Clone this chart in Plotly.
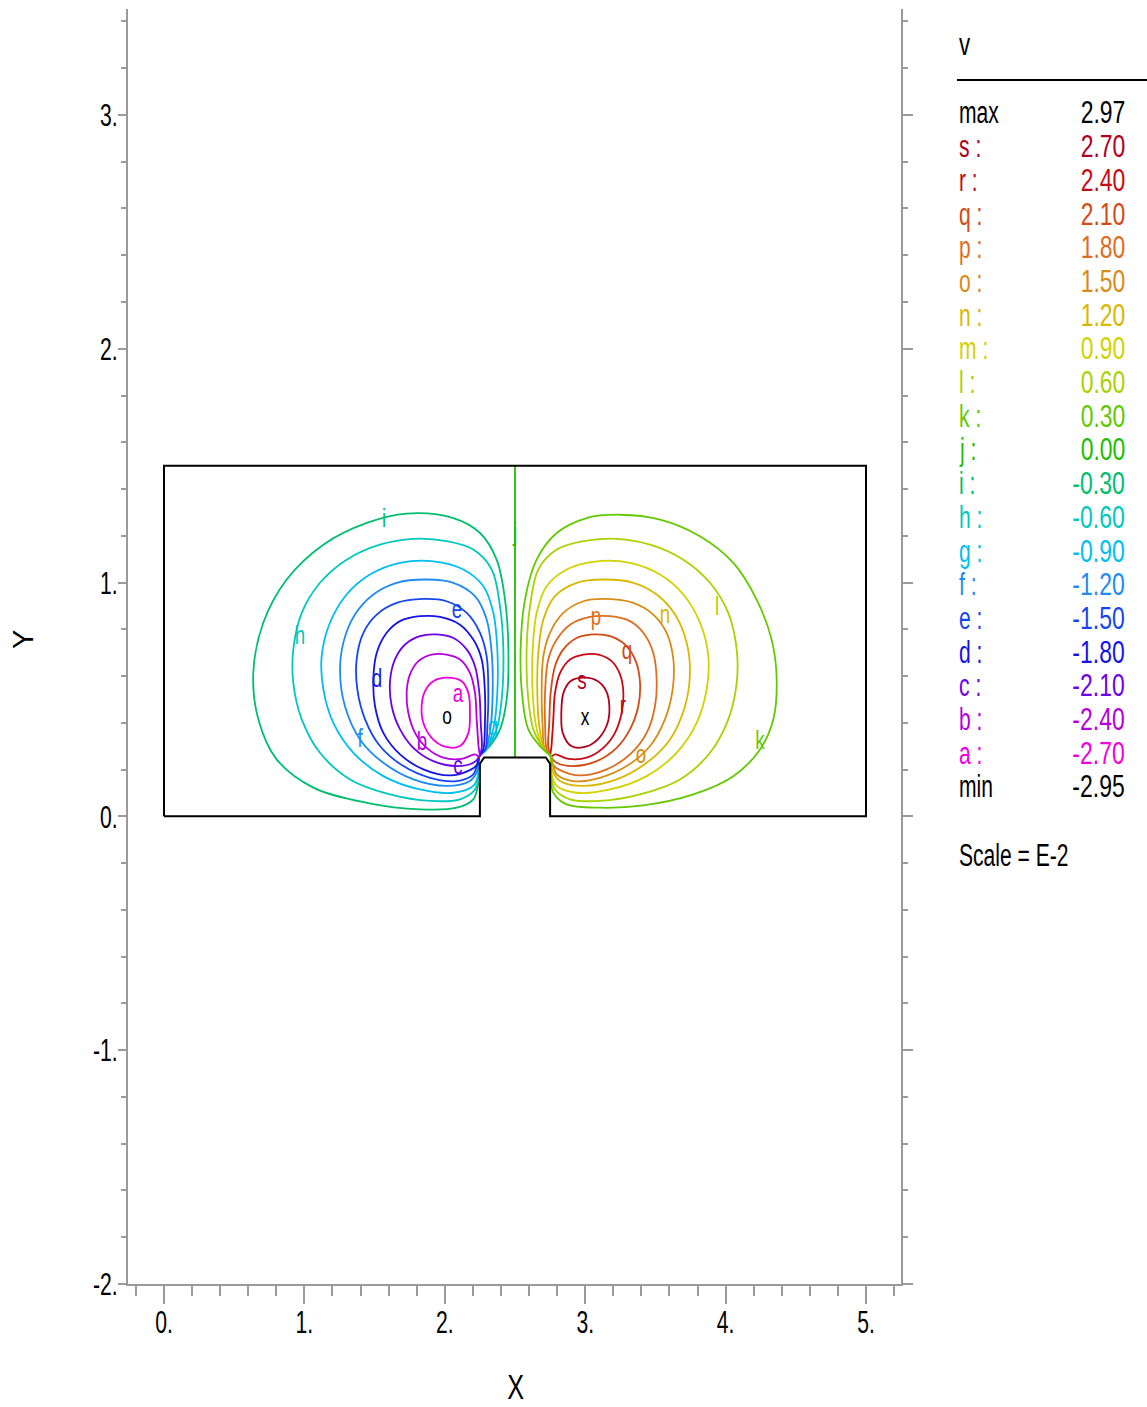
import plotly.graph_objects as go

# ---------------------------------------------------------------
# Contour levels of v (values in units of 1E-2)
# ---------------------------------------------------------------
level_names = ["s", "r", "q", "p", "o", "n", "m", "l", "k", "j",
               "i", "h", "g", "f", "e", "d", "c", "b", "a"]
level_values = [2.70, 2.40, 2.10, 1.80, 1.50, 1.20, 0.90, 0.60, 0.30, 0.00,
                -0.30, -0.60, -0.90, -1.20, -1.50, -1.80, -2.10, -2.40, -2.70]
level_colors = ["#b0001e", "#c80a14", "#d24a14", "#dc6e1e", "#d88c14", "#d8b800",
                "#d2d200", "#a8d200", "#64c800", "#1ebe00",
                "#00be6e", "#00c8be", "#00bef0", "#1e8cf0", "#1446f0", "#1414e6",
                "#6e00e6", "#b400dc", "#f000dc"]
v_max = 2.97
v_min = -2.95
scale_label = "Scale = E-2"

# ---------------------------------------------------------------
# Domain outline (channel with a raised block on the floor)
# ---------------------------------------------------------------
domain_x = [0.0, 2.25, 2.25, 2.28, 2.72, 2.75, 2.75, 5.0, 5.0, 0.0, 0.0]
domain_y = [0.0, 0.0, 0.225, 0.252, 0.252, 0.225, 0.0, 0.0, 1.5, 1.5, 0.0]

# ---------------------------------------------------------------
# Contour paths, left (negative) cell
# ---------------------------------------------------------------
contour_i_x = [2.245, 2.32, 2.393, 2.441, 2.453, 2.429, 2.369, 2.251, 2.061, 1.728, 1.444, 1.135,
               0.874, 0.707, 0.636, 0.672, 0.802, 1.064, 1.444, 1.823, 2.085, 2.203, 2.239, 2.245]
contour_i_y = [0.255, 0.300, 0.372, 0.500, 0.714, 0.927, 1.098, 1.212, 1.276, 1.295, 1.255, 1.162,
               1.013, 0.828, 0.614, 0.415, 0.244, 0.123, 0.058, 0.030, 0.037, 0.073, 0.144, 0.255]

contour_h_x = [2.245, 2.298, 2.369, 2.405, 2.417, 2.393, 2.334, 2.203, 2.013, 1.776, 1.538, 1.301,
               1.111, 0.981, 0.921, 0.921, 0.981, 1.111, 1.325, 1.610, 1.895, 2.108, 2.215, 2.241, 2.245]
contour_h_y = [0.255, 0.290, 0.372, 0.500, 0.714, 0.899, 1.056, 1.141, 1.177, 1.187, 1.162, 1.098,
               0.999, 0.870, 0.714, 0.571, 0.415, 0.272, 0.158, 0.094, 0.066, 0.073, 0.115, 0.172, 0.255]

contour_g_x = [2.245, 2.298, 2.350, 2.374, 2.374, 2.346, 2.275, 2.132, 1.918, 1.681, 1.467, 1.301,
               1.182, 1.123, 1.135, 1.206, 1.349, 1.562, 1.823, 2.061, 2.203, 2.241, 2.245]
contour_g_y = [0.255, 0.286, 0.386, 0.528, 0.714, 0.870, 0.984, 1.056, 1.091, 1.084, 1.034, 0.949,
               0.828, 0.685, 0.543, 0.400, 0.272, 0.172, 0.115, 0.101, 0.130, 0.187, 0.255]

contour_f_x = [2.245, 2.293, 2.327, 2.341, 2.334, 2.298, 2.215, 2.061, 1.871, 1.657, 1.491, 1.360,
               1.277, 1.254, 1.289, 1.396, 1.562, 1.776, 2.013, 2.179, 2.236, 2.245]
contour_f_y = [0.255, 0.289, 0.386, 0.528, 0.699, 0.842, 0.942, 0.999, 1.013, 0.999, 0.949, 0.863,
               0.742, 0.614, 0.471, 0.329, 0.229, 0.158, 0.130, 0.151, 0.201, 0.255]

contour_e_x = [2.245, 2.289, 2.303, 2.310, 2.298, 2.251, 2.156, 2.013, 1.847, 1.657, 1.515, 1.420,
               1.372, 1.377, 1.432, 1.538, 1.705, 1.895, 2.085, 2.203, 2.245]
contour_e_y = [0.255, 0.289, 0.386, 0.528, 0.685, 0.785, 0.870, 0.920, 0.930, 0.913, 0.863, 0.785,
               0.671, 0.543, 0.415, 0.301, 0.215, 0.165, 0.151, 0.180, 0.255]

contour_d_x = [2.245, 2.274, 2.286, 2.286, 2.263, 2.203, 2.108, 1.966, 1.823, 1.681, 1.586, 1.515,
               1.491, 1.503, 1.562, 1.681, 1.847, 2.037, 2.179, 2.232, 2.245]
contour_d_y = [0.255, 0.286, 0.400, 0.528, 0.671, 0.756, 0.820, 0.853, 0.856, 0.835, 0.785, 0.699,
               0.585, 0.471, 0.357, 0.265, 0.201, 0.175, 0.198, 0.222, 0.255]

contour_c_x = [2.245, 2.263, 2.256, 2.246, 2.215, 2.156, 2.061, 1.942, 1.823, 1.717, 1.645, 1.610,
               1.622, 1.681, 1.776, 1.918, 2.085, 2.203, 2.245]
contour_c_y = [0.255, 0.293, 0.400, 0.528, 0.642, 0.714, 0.763, 0.778, 0.771, 0.735, 0.671, 0.578,
               0.471, 0.372, 0.293, 0.236, 0.215, 0.229, 0.255]

contour_b_x = [2.245, 2.239, 2.227, 2.215, 2.179, 2.108, 2.013, 1.906, 1.812, 1.752, 1.728, 1.740,
               1.788, 1.871, 1.990, 2.120, 2.215, 2.245]
contour_b_y = [0.255, 0.308, 0.415, 0.528, 0.614, 0.671, 0.692, 0.692, 0.664, 0.607, 0.528, 0.443,
               0.357, 0.293, 0.251, 0.246, 0.265, 0.255]

contour_a_x = [2.179, 2.168, 2.120, 2.013, 1.918, 1.859, 1.835, 1.847, 1.906, 2.002, 2.108, 2.168, 2.179]
contour_a_y = [0.443, 0.528, 0.578, 0.593, 0.578, 0.536, 0.471, 0.400, 0.336, 0.298, 0.301, 0.357, 0.443]

# ---------------------------------------------------------------
# Contour paths, right (positive) cell
# ---------------------------------------------------------------
contour_k_x = [2.755, 2.678, 2.595, 2.554, 2.540, 2.571, 2.654, 2.797, 3.010, 3.248, 3.533, 3.817,
               4.055, 4.221, 4.328, 4.364, 4.340, 4.245, 4.055, 3.770, 3.414, 3.105, 2.868, 2.773,
               2.754, 2.755]
contour_k_y = [0.255, 0.300, 0.372, 0.500, 0.714, 0.927, 1.098, 1.212, 1.276, 1.290, 1.269, 1.198,
               1.084, 0.927, 0.756, 0.585, 0.415, 0.286, 0.172, 0.094, 0.047, 0.037, 0.051, 0.101,
               0.172, 0.255]

contour_l_x = [2.755, 2.702, 2.631, 2.595, 2.583, 2.607, 2.666, 2.797, 2.987, 3.224, 3.462, 3.699,
               3.889, 4.019, 4.079, 4.079, 4.019, 3.889, 3.675, 3.390, 3.105, 2.892, 2.785, 2.759, 2.755]
contour_l_y = [0.255, 0.290, 0.372, 0.500, 0.714, 0.899, 1.056, 1.141, 1.177, 1.187, 1.162, 1.098,
               0.999, 0.870, 0.714, 0.571, 0.415, 0.272, 0.158, 0.094, 0.066, 0.073, 0.115, 0.172, 0.255]

contour_m_x = [2.755, 2.702, 2.650, 2.626, 2.626, 2.654, 2.725, 2.868, 3.082, 3.319, 3.533, 3.699,
               3.818, 3.877, 3.865, 3.794, 3.651, 3.438, 3.177, 2.939, 2.797, 2.759, 2.755]
contour_m_y = [0.255, 0.286, 0.386, 0.528, 0.714, 0.870, 0.984, 1.056, 1.091, 1.084, 1.034, 0.949,
               0.828, 0.685, 0.543, 0.400, 0.272, 0.172, 0.115, 0.101, 0.130, 0.187, 0.255]

contour_n_x = [2.755, 2.707, 2.673, 2.659, 2.666, 2.702, 2.785, 2.939, 3.129, 3.343, 3.509, 3.640,
               3.723, 3.746, 3.711, 3.604, 3.438, 3.224, 2.987, 2.821, 2.764, 2.755]
contour_n_y = [0.255, 0.289, 0.386, 0.528, 0.699, 0.842, 0.942, 0.999, 1.013, 0.999, 0.949, 0.863,
               0.742, 0.614, 0.471, 0.329, 0.229, 0.158, 0.130, 0.151, 0.201, 0.255]

contour_o_x = [2.755, 2.711, 2.697, 2.690, 2.702, 2.749, 2.844, 2.987, 3.153, 3.343, 3.485, 3.580,
               3.628, 3.623, 3.568, 3.462, 3.295, 3.105, 2.915, 2.797, 2.755]
contour_o_y = [0.255, 0.289, 0.386, 0.528, 0.685, 0.785, 0.870, 0.920, 0.930, 0.913, 0.863, 0.785,
               0.671, 0.543, 0.415, 0.301, 0.215, 0.165, 0.151, 0.180, 0.255]

contour_p_x = [2.755, 2.726, 2.714, 2.714, 2.737, 2.797, 2.892, 3.034, 3.177, 3.319, 3.414, 3.485,
               3.509, 3.497, 3.438, 3.319, 3.153, 2.963, 2.821, 2.768, 2.755]
contour_p_y = [0.255, 0.286, 0.400, 0.528, 0.671, 0.756, 0.820, 0.853, 0.856, 0.835, 0.785, 0.699,
               0.585, 0.471, 0.357, 0.265, 0.201, 0.175, 0.198, 0.222, 0.255]

contour_q_x = [2.755, 2.737, 2.744, 2.754, 2.785, 2.844, 2.939, 3.058, 3.177, 3.283, 3.355, 3.390,
               3.378, 3.319, 3.224, 3.082, 2.915, 2.797, 2.755]
contour_q_y = [0.255, 0.293, 0.400, 0.528, 0.642, 0.714, 0.763, 0.778, 0.771, 0.735, 0.671, 0.578,
               0.471, 0.372, 0.293, 0.236, 0.215, 0.229, 0.255]

contour_r_x = [2.755, 2.761, 2.773, 2.785, 2.821, 2.892, 2.987, 3.094, 3.188, 3.248, 3.272, 3.260,
               3.212, 3.129, 3.010, 2.880, 2.785, 2.755]
contour_r_y = [0.255, 0.308, 0.415, 0.528, 0.614, 0.671, 0.692, 0.692, 0.664, 0.607, 0.528, 0.443,
               0.357, 0.293, 0.251, 0.246, 0.265, 0.255]

contour_s_x = [2.830, 2.845, 2.895, 2.995, 3.090, 3.150, 3.172, 3.160, 3.100, 3.005, 2.900, 2.840, 2.830]
contour_s_y = [0.443, 0.528, 0.578, 0.593, 0.578, 0.536, 0.471, 0.400, 0.336, 0.298, 0.301, 0.357, 0.443]

# zero contour along the symmetry line
contour_j_x = [2.5, 2.5]
contour_j_y = [0.252, 1.5]

# contour letter labels
label_text = ["i", "h", "e", "d", "a", "f", "b", "c", "g", "j",
              "p", "n", "l", "q", "s", "r", "o", "k"]
label_x = [1.567, 0.969, 2.087, 1.517, 2.094, 1.396, 1.838, 2.094, 2.343, 2.500,
           3.077, 3.568, 3.939, 3.298, 2.977, 3.269, 3.397, 4.245]
label_y = [1.265, 0.765, 0.876, 0.581, 0.517, 0.325, 0.312, 0.209, 0.376, 1.205,
           0.846, 0.855, 0.889, 0.701, 0.573, 0.466, 0.256, 0.316]

# locations of the extremes
min_x, min_y = 2.016, 0.419
max_x, max_y = 2.999, 0.415

# ---------------------------------------------------------------
contour_paths = {
    "a": (contour_a_x, contour_a_y), "b": (contour_b_x, contour_b_y),
    "c": (contour_c_x, contour_c_y), "d": (contour_d_x, contour_d_y),
    "e": (contour_e_x, contour_e_y), "f": (contour_f_x, contour_f_y),
    "g": (contour_g_x, contour_g_y), "h": (contour_h_x, contour_h_y),
    "i": (contour_i_x, contour_i_y), "j": (contour_j_x, contour_j_y),
    "k": (contour_k_x, contour_k_y), "l": (contour_l_x, contour_l_y),
    "m": (contour_m_x, contour_m_y), "n": (contour_n_x, contour_n_y),
    "o": (contour_o_x, contour_o_y), "p": (contour_p_x, contour_p_y),
    "q": (contour_q_x, contour_q_y), "r": (contour_r_x, contour_r_y),
    "s": (contour_s_x, contour_s_y),
}
color_of = dict(zip(level_names, level_colors))

FONT = "Liberation Sans, Arial, sans-serif"
AXIS_GREY = "#9a9a9a"

W, H = 1147, 1407
L, R, T, B = 128, 246, 9, 123
PW, PH = W - L - R, H - T - B


def px(xp):
    return (xp - L) / PW


def py(yp):
    return (H - B - yp) / PH


fig = go.Figure()

for name in level_names:
    xs, ys = contour_paths[name]
    shape = "linear" if name == "j" else "spline"
    fig.add_trace(go.Scatter(
        x=xs, y=ys, mode="lines",
        line=dict(color=color_of[name], width=1.8, shape=shape, smoothing=1.0),
        hoverinfo="skip"))

fig.add_trace(go.Scatter(
    x=domain_x, y=domain_y, mode="lines",
    line=dict(color="black", width=2), hoverinfo="skip"))

fig.add_trace(go.Scatter(
    x=label_x, y=label_y, mode="text", text=label_text,
    textfont=dict(family=FONT, size=26, color=[color_of[t] for t in label_text]),
    hoverinfo="skip"))

fig.add_trace(go.Scatter(
    x=[min_x, max_x], y=[min_y, max_y], mode="text", text=["o", "x"],
    textfont=dict(family=FONT, size=24, color="black"), hoverinfo="skip"))

# right-hand frame axis
fig.add_trace(go.Scatter(x=[None], y=[None], yaxis="y2", hoverinfo="skip"))

y_range = [-2.0, 3.453]
x_range = [-0.2564, 5.2493]
tick_vals_x = [0, 1, 2, 3, 4, 5]
tick_vals_y = [-2, -1, 0, 1, 2, 3]

fig.update_layout(
    width=W, height=H,
    margin=dict(l=L, r=R, t=T, b=B, pad=0),
    paper_bgcolor="white", plot_bgcolor="white",
    showlegend=False,
    font=dict(family=FONT, color="black"),
    xaxis=dict(
        range=x_range, showgrid=False, zeroline=False,
        showline=True, linecolor=AXIS_GREY, linewidth=2,
        ticks="outside", ticklen=18, tickwidth=2, tickcolor=AXIS_GREY,
        tickvals=tick_vals_x, ticktext=[f"{v}." for v in tick_vals_x],
        tickfont=dict(family=FONT, size=32, color="black"),
        ticklabelstandoff=-9,
        minor=dict(ticks="outside", ticklen=10, tickwidth=2, tickcolor=AXIS_GREY,
                   dtick=0.2, tick0=0, showgrid=False),
    ),
    yaxis=dict(
        range=y_range, showgrid=False, zeroline=False,
        showline=True, linecolor=AXIS_GREY, linewidth=2,
        ticks="outside", ticklen=8, tickwidth=2, tickcolor=AXIS_GREY,
        tickvals=tick_vals_y, ticktext=[f"{v}." for v in tick_vals_y],
        tickfont=dict(family=FONT, size=32, color="black"),
        ticklabelstandoff=-6,
        minor=dict(ticks="outside", ticklen=5, tickwidth=2, tickcolor=AXIS_GREY,
                   dtick=0.2, tick0=0, showgrid=False),
    ),
    yaxis2=dict(
        range=y_range, overlaying="y", side="right", showgrid=False, zeroline=False,
        showline=True, linecolor=AXIS_GREY, linewidth=2,
        ticks="outside", ticklen=10, tickwidth=2, tickcolor=AXIS_GREY,
        tickvals=tick_vals_y, showticklabels=False,
        minor=dict(ticks="outside", ticklen=5, tickwidth=2, tickcolor=AXIS_GREY,
                   dtick=0.2, tick0=0, showgrid=False),
    ),
)

annotations = []
# axis titles
annotations.append(dict(text="X", x=px(515), y=py(1386), xref="paper", yref="paper",
                        showarrow=False, font=dict(family=FONT, size=35, color="black"),
                        xanchor="center", yanchor="middle", name="sq:0.72"))
annotations.append(dict(text="Y", x=px(23), y=py(640), xref="paper", yref="paper",
                        showarrow=False, textangle=-90,
                        font=dict(family=FONT, size=29, color="black"),
                        xanchor="center", yanchor="middle"))

# level table
LEG_X, VAL_X = 957, 1127
LEG_SIZE = 31
annotations.append(dict(text="v", x=px(LEG_X), y=py(45), xref="paper", yref="paper",
                        showarrow=False, font=dict(family=FONT, size=LEG_SIZE, color="black"),
                        xanchor="left", yanchor="middle", align="left", name="sq:0.72"))

rows = [("max", "black", f"{v_max:.2f}")]
for name, val, col in zip(level_names, level_values, level_colors):
    rows.append((f"{name} :", col, f"{val:.2f}"))
rows.append(("min", "black", f"{v_min:.2f}"))

row0, row_step = 113, 33.7
for k, (lab, col, val) in enumerate(rows):
    yy = py(row0 + k * row_step)
    annotations.append(dict(text=lab, x=px(LEG_X), y=yy, xref="paper", yref="paper",
                            showarrow=False, font=dict(family=FONT, size=LEG_SIZE, color=col),
                            xanchor="left", yanchor="middle", align="left", name="sq:0.68"))
    annotations.append(dict(text=val, x=px(VAL_X), y=yy, xref="paper", yref="paper",
                            showarrow=False, font=dict(family=FONT, size=LEG_SIZE, color=col),
                            xanchor="right", yanchor="middle", align="right", name="sq:0.74"))

annotations.append(dict(text=scale_label, x=px(LEG_X), y=py(855), xref="paper", yref="paper",
                        showarrow=False, font=dict(family=FONT, size=LEG_SIZE, color="black"),
                        xanchor="left", yanchor="middle", align="left", name="sq:0.68"))
fig.update_layout(annotations=annotations)

fig.add_shape(type="line", xref="paper", yref="paper",
              x0=px(LEG_X), x1=px(W), y0=py(80), y1=py(80),
              line=dict(color="black", width=2))

# Condensed lettering: squeeze glyph widths of the SVG text horizontally.
condense_js = """
(function () {
  var gd = document.getElementById('{plot_id}');
  if (!gd) { return; }
  function fit(t, f) {
    if (!t || t.getAttribute('textLength')) { return; }
    var w = t.getComputedTextLength();
    if (!w) { return; }
    t.setAttribute('lengthAdjust', 'spacingAndGlyphs');
    t.setAttribute('textLength', (w * f).toFixed(2));
  }
  function run() {
    gd.querySelectorAll('.xtick text, .ytick text').forEach(function (t) { fit(t, 0.66); });
    gd.querySelectorAll('.textpoint text').forEach(function (t) { fit(t, 0.72); });
    var anns = (gd.layout && gd.layout.annotations) || [];
    gd.querySelectorAll('g.annotation').forEach(function (g) {
      var a = anns[+g.getAttribute('data-index')] || {};
      var m = /^sq:(.*)$/.exec(a.name || '');
      if (m) { fit(g.querySelector('text.annotation-text'), parseFloat(m[1])); }
    });
  }
  if (gd.on) { gd.on('plotly_afterplot', run); }
  setTimeout(run, 0);
  setTimeout(run, 200);
})();
"""

fig.write_html("out.html", post_script=condense_js)
